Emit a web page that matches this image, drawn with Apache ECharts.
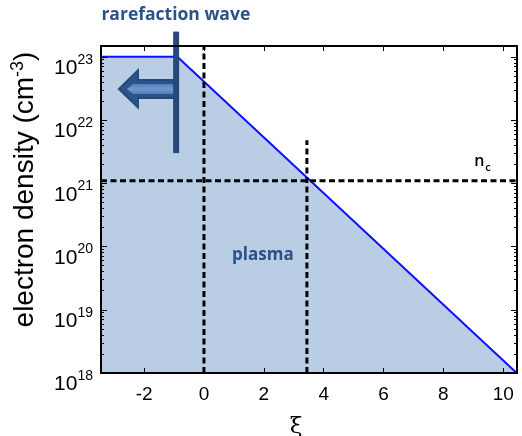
<!DOCTYPE html>
<html><head><meta charset="utf-8">
<script src="https://cdn.jsdelivr.net/npm/echarts@6/dist/echarts.min.js"></script>
<style>html,body{margin:0;padding:0;background:#fff}#c{width:522px;height:436px}</style>
</head><body><div id="c"></div>
<script>
// ---- data ----
const xiRange = [-3.44, 10.46];
const densityRange = [1e18, 1.48e23];
const profileXi = [-3.44, -0.89, 10.45];
const profileDensity = [1e23, 1e23, 1e18];
const criticalDensity = 1.1e21;
const frontXi = 0;
const criticalXi = 3.44;
const criticalMarkerTop = 4.8e21;
const xTickValues = [-2, 0, 2, 4, 6, 8, 10];
const yTickExponents = [18, 19, 20, 21, 22, 23];
const waveXi = -0.93;
const waveDensityTop = 2.5e23;
const waveDensityBottom = 3.0e21;
const arrowTipXi = -2.84;
const arrowDensity = 3.1e22;
const waveLabel = { text: 'rarefaction wave', xi: -0.94, density: 4.6e23 };
const plasmaLabel = { text: 'plasma', xi: 1.97, density: 7.4e19 };
const ncLabel = { xi: 9.03, density: 2.2e21 };

// ---- helpers ----
const L = Math.log10;
const yMin = L(densityRange[0]), yMax = L(densityRange[1]);
const minorExps = [];
for (let n = 18; n <= 23; n++) for (let k = 2; k <= 9; k++) { const v = n + L(k); if (v < yMax) minorExps.push(v); }

const tickFont = 'Liberation Sans';
const black = '#000';
const axisLine = { show: true, onZero: false, lineStyle: { color: black, width: 2 } };

function xAxisDef(pos, showLabel) {
  return {
    type: 'value', position: pos, min: xiRange[0], max: xiRange[1], z: 10,
    axisLine: axisLine,
    axisTick: { show: true, inside: true, length: 5, customValues: xTickValues, lineStyle: { color: black, width: 1 } },
    axisLabel: showLabel ? { show: true, customValues: xTickValues, fontSize: 19, fontFamily: tickFont, color: black, margin: 12 } : { show: false },
    splitLine: { show: false }
  };
}
function yAxisDef(pos, opts) {
  return Object.assign({
    type: 'value', position: pos, min: yMin, max: yMax, z: 10,
    axisLine: axisLine,
    axisTick: { show: true, inside: true, length: 6, customValues: yTickExponents, lineStyle: { color: black, width: 1 } },
    axisLabel: { show: false },
    splitLine: { show: false }
  }, opts || {});
}

const xMain = xAxisDef('bottom', true);
xMain.name = 'ξ';
xMain.nameLocation = 'middle';
xMain.nameGap = 43;
xMain.nameTextStyle = { fontSize: 23, fontFamily: 'DejaVu Serif', color: black, padding: [0, 26, 0, 0] };

const yMain = yAxisDef('left', {
  axisLabel: {
    show: true, customValues: yTickExponents, margin: 8, verticalAlign: 'top',
    formatter: v => '{b|10}{s|' + v + '}',
    rich: {
      b: { fontSize: 21, fontFamily: tickFont, color: black, lineHeight: 22, verticalAlign: 'bottom' },
      s: { fontSize: 14, fontFamily: tickFont, color: black, lineHeight: 22, verticalAlign: 'top', padding: [-4, 0, 0, 0] }
    }
  },
  name: '{a|electron density (cm}{s|-3}{a|)}',
  nameLocation: 'middle', nameGap: 62,
  nameTextStyle: {
    padding: [0, 0, 0, 40],
    rich: {
      a: { fontSize: 28, fontFamily: tickFont, color: black, lineHeight: 30, verticalAlign: 'bottom' },
      s: { fontSize: 18, fontFamily: tickFont, color: black, lineHeight: 30, verticalAlign: 'top' }
    }
  }
});
const yRight = yAxisDef('right');
const minorTick = { show: true, inside: true, length: 3, customValues: minorExps, lineStyle: { color: black, width: 1 } };
const noLine = { show: false, onZero: false };
const yMinorL = yAxisDef('left', { axisLine: noLine, axisTick: minorTick });
const yMinorR = yAxisDef('right', { axisLine: noLine, axisTick: minorTick });

const dashStyle = { color: black, width: 3, type: [6, 3.5] };
const dashed = (data) => ({ type: 'line', data, symbol: 'none', silent: true, z: 4, lineStyle: dashStyle });

const textColor = '#2a5287';

const option = {
  animation: false,
  grid: { left: 101, right: 5, top: 46, bottom: 63, outerBoundsMode: 'none', containLabel: false },
  xAxis: [xMain, xAxisDef('top', false)],
  yAxis: [yMain, yRight, yMinorL, yMinorR],
  series: [
    {
      type: 'line', symbol: 'none', silent: true, z: 2,
      data: profileXi.map((x, i) => [x, L(profileDensity[i])]),
      lineStyle: { color: '#1010ff', width: 2 },
      areaStyle: { color: '#b9cde5', opacity: 1, origin: 'start' }
    },
    dashed([[frontXi, yMin], [frontXi, yMax]]),
    dashed([[criticalXi, yMin], [criticalXi, L(criticalMarkerTop)]]),
    dashed([[xiRange[0], L(criticalDensity)], [xiRange[1], L(criticalDensity)]]),
    {
      type: 'custom', clip: false, silent: true, z: 6,
      data: [[waveXi, L(arrowDensity)]],
      renderItem: function (params, api) {
        const top = api.coord([waveXi, L(waveDensityTop)]);
        const bot = api.coord([waveXi, L(waveDensityBottom)]);
        const tip = api.coord([arrowTipXi, L(arrowDensity)]);
        const lbl = api.coord([waveLabel.xi, L(waveLabel.density)]);
        const pl = api.coord([plasmaLabel.xi, L(plasmaLabel.density)]);
        const nc = api.coord([ncLabel.xi, L(ncLabel.density)]);
        const y = tip[1], hx = tip[0] + 19, end = top[0] - 2;
        return {
          type: 'group', children: [
            { type: 'polygon', shape: { points: [[tip[0], y], [hx, y - 18.5], [hx, y - 9], [end, y - 9], [end, y + 9], [hx, y + 9], [hx, y + 18.5]] },
              style: { fill: '#2d5488', stroke: '#24497a', lineWidth: 2 } },
            { type: 'polygon', shape: { points: [[tip[0] + 8, y], [tip[0] + 14, y - 5], [end, y - 5], [end, y + 5], [tip[0] + 14, y + 5]] },
              style: { fill: new echarts.graphic.LinearGradient(0, 0, 0, 1, [{ offset: 0, color: '#4f7fba' }, { offset: 0.5, color: '#6f9ad0' }, { offset: 1, color: '#4f7fba' }]) } },
            { type: 'rect', shape: { x: top[0] - 3, y: top[1], width: 6, height: bot[1] - top[1] }, style: { fill: '#24497a' } },
            { type: 'text', x: lbl[0], y: lbl[1], style: { text: waveLabel.text, fill: textColor, font: 'bold 17.5px "Open Sans"', align: 'center', verticalAlign: 'middle' } },
            { type: 'text', x: pl[0], y: pl[1], style: { text: plasmaLabel.text, fill: textColor, font: 'bold 17px "Open Sans"', align: 'center', verticalAlign: 'middle' } },
            { type: 'text', x: nc[0], y: nc[1], style: { text: 'n', fill: black, font: '600 16px "Open Sans"', align: 'left', verticalAlign: 'middle' } },
            { type: 'text', x: nc[0] + 11, y: nc[1] + 6, style: { text: 'c', fill: black, font: '600 11px "Open Sans"', align: 'left', verticalAlign: 'middle' } }
          ]
        };
      }
    }
  ]
};
const chart = echarts.init(document.getElementById('c'), null, { renderer: 'canvas' });
chart.setOption(option);
</script></body></html>
